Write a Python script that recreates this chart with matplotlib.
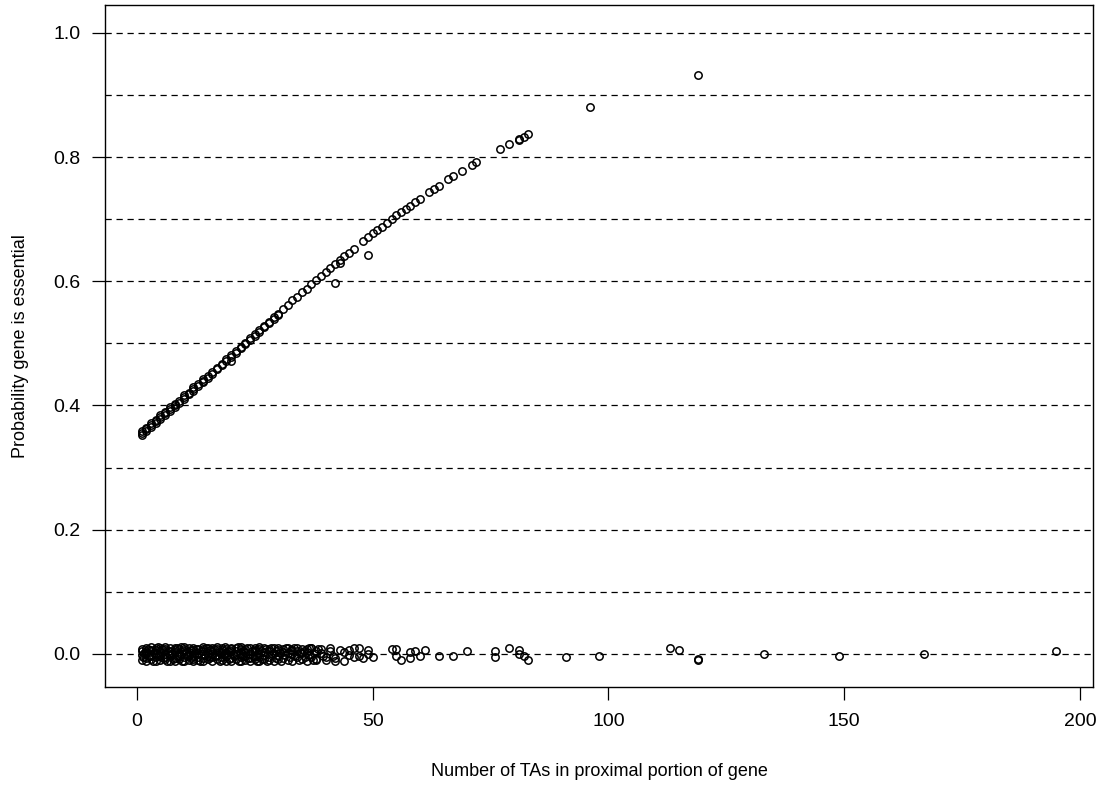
import matplotlib
matplotlib.use("Agg")
import matplotlib.pyplot as plt

plt.rcParams['font.family'] = ['Liberation Sans', 'DejaVu Sans']

# predicted probability for essential genes (upper curve), (x, p) pairs
top_pts = [(1, 0.356), (1, 0.353), (1, 0.358), (2, 0.362), (2, 0.359), (2, 0.364),
           (3, 0.368), (3, 0.366), (3, 0.371), (4, 0.375), (4, 0.372), (4, 0.377),
           (5, 0.381), (5, 0.378), (5, 0.384), (6, 0.388), (6, 0.385), (6, 0.390),
           (7, 0.394), (7, 0.391), (7, 0.397), (8, 0.400), (8, 0.398), (8, 0.403),
           (9, 0.407), (9, 0.404), (10, 0.414), (10, 0.411), (10, 0.416),
           (11, 0.420), (11, 0.418), (12, 0.427), (12, 0.424), (12, 0.429),
           (13, 0.434), (13, 0.431), (14, 0.440), (14, 0.437), (14, 0.443),
           (15, 0.447), (15, 0.444), (16, 0.454), (16, 0.451), (17, 0.460), (17, 0.458),
           (18, 0.467), (18, 0.465), (19, 0.474), (19, 0.471), (20, 0.481), (20, 0.478),
           (20, 0.472), (21, 0.488), (21, 0.485), (22, 0.494), (22, 0.492),
           (23, 0.501), (23, 0.499), (24, 0.508), (24, 0.505), (25, 0.515), (25, 0.512),
           (26, 0.521), (26, 0.519), (27, 0.528), (27, 0.526), (28, 0.535), (28, 0.533),
           (29, 0.542), (29, 0.540), (30, 0.548), (30, 0.546), (31, 0.555), (32, 0.562),
           (33, 0.569), (34, 0.575), (35, 0.582), (36, 0.588), (37, 0.595), (38, 0.602),
           (39, 0.608), (40, 0.615), (41, 0.621), (42, 0.627), (43, 0.634), (43, 0.630),
           (44, 0.640), (45, 0.646), (46, 0.652), (48, 0.665), (49, 0.671), (50, 0.677),
           (51, 0.683), (52, 0.688), (53, 0.694), (54, 0.700), (55, 0.706), (56, 0.711),
           (57, 0.717), (58, 0.722), (59, 0.728), (60, 0.733), (62, 0.744), (63, 0.749),
           (64, 0.754), (66, 0.764), (67, 0.769), (69, 0.778), (71, 0.787), (72, 0.792),
           (77, 0.813), (79, 0.821), (81, 0.829), (81, 0.827), (82, 0.833), (83, 0.837),
           (96, 0.880), (119, 0.932)]
# genes sitting below the curve
off_pts = [(42, 0.597), (49, 0.642)]

# non-essential genes, jittered around zero, (x, y) pairs
zero_pts = [
    (1, 0.008), (1, -0.002), (1, -0.010), (1, 0.004),
    (2, -0.007), (2, 0.010), (2, 0.001), (2, -0.011), (2, 0.005),
    (3, 0.006), (3, -0.004), (3, 0.011), (3, -0.009),
    (4, 0.009), (4, -0.006), (4, 0.002), (4, -0.012), (4, 0.006),
    (5, -0.003), (5, 0.010), (5, -0.010), (5, 0.004),
    (6, 0.007), (6, -0.008), (6, 0.000), (6, 0.011), (6, -0.005),
    (7, -0.011), (7, 0.005), (7, -0.002), (7, 0.009),
    (8, 0.010), (8, -0.007), (8, 0.003), (8, -0.012), (8, 0.006),
    (9, -0.004), (9, 0.008), (9, -0.009), (9, 0.001),
    (10, 0.011), (10, -0.006), (10, 0.004), (10, -0.011), (10, 0.007),
    (11, -0.002), (11, 0.009), (11, -0.010), (11, 0.003),
    (12, 0.006), (12, -0.008), (12, 0.010), (12, -0.003), (12, -0.012),
    (13, 0.008), (13, -0.005), (13, 0.001), (13, -0.010),
    (14, 0.011), (14, -0.007), (14, 0.004), (14, -0.012), (14, 0.007),
    (15, -0.003), (15, 0.009), (15, -0.009), (15, 0.002),
    (16, 0.010), (16, -0.006), (16, 0.005), (16, -0.011), (16, 0.000),
    (17, -0.008), (17, 0.007), (17, -0.002), (17, 0.011),
    (18, 0.009), (18, -0.010), (18, 0.003), (18, -0.005), (18, 0.006),
    (19, -0.012), (19, 0.008), (19, -0.004), (19, 0.002),
    (20, 0.010), (20, -0.007), (20, 0.004), (20, -0.011), (20, 0.007),
    (21, -0.001), (21, 0.009), (21, -0.009), (21, 0.005),
    (22, 0.011), (22, -0.006), (22, 0.002), (22, -0.012), (22, 0.008),
    (23, -0.004), (23, 0.007), (23, -0.010), (23, 0.003),
    (24, 0.010), (24, -0.007), (24, 0.000), (24, -0.011),
    (25, 0.006), (25, -0.003), (25, 0.009), (25, -0.009), (25, 0.004),
    (26, -0.012), (26, 0.008), (26, -0.005), (26, 0.011),
    (27, 0.003), (27, -0.008), (27, 0.010), (27, -0.002),
    (28, 0.007), (28, -0.010), (28, 0.004), (28, -0.006),
    (29, 0.009), (29, -0.011), (29, 0.001),
    (30, 0.006), (30, -0.004), (30, 0.010), (30, -0.009),
    (31, 0.008), (31, -0.007), (31, 0.003),
    (32, -0.010), (32, 0.009), (32, 0.002),
    (33, 0.006), (33, -0.011), (33, 0.000),
    (34, 0.010), (34, -0.006), (34, 0.004),
    (35, -0.009), (35, 0.008), (35, 0.001),
    (36, 0.007), (36, -0.012), (36, 0.003),
    (37, 0.009), (37, -0.005), (37, 0.010),
    (38, -0.008), (38, 0.005), (38, -0.010),
    (39, 0.002), (39, 0.008),
    (40, -0.006), (40, -0.010),
    (41, 0.004), (41, 0.009),
    (42, -0.007), (42, -0.011),
    (43, 0.006),
    (44, -0.012), (44, 0.003),
    (45, 0.006), (45, -0.002),
    (46, 0.009), (46, -0.006),
    (47, 0.009), (47, -0.004),
    (48, -0.007),
    (49, 0.000), (49, 0.006),
    (50, -0.006),
    (54, 0.008), (55, 0.008), (55, -0.003), (56, -0.010), (58, 0.003), (58, -0.007),
    (59, 0.005), (60, -0.004), (61, 0.006), (64, -0.003), (67, -0.004), (70, 0.004),
    (76, 0.005), (76, -0.005), (79, 0.009), (81, 0.006), (81, -0.001), (82, -0.004),
    (83, -0.010), (91, -0.006), (98, -0.004), (113, 0.009), (115, 0.006),
    (119, -0.008), (119, -0.010), (133, 0.000), (149, -0.004), (167, -0.001),
    (195, 0.005),
]
# more non-essential genes in the crowded low-count range
zero_pts_more = [
    (1.4, -0.006), (1.6, 0.001), (2.4, 0.007), (2.6, -0.004), (3.4, -0.012), (3.6, 0.002),
    (4.4, 0.011), (4.6, -0.002), (5.4, 0.007), (5.6, -0.007), (6.4, -0.011), (6.6, 0.004),
    (7.4, 0.001), (7.6, -0.008), (8.4, -0.003), (8.6, 0.009), (9.4, 0.011), (9.6, -0.012),
    (10.4, 0.001), (10.6, -0.003), (11.4, 0.006), (11.6, -0.006), (12.4, 0.002), (12.6, 0.008),
    (13.4, -0.012), (13.6, 0.004), (14.4, -0.002), (14.6, 0.009), (15.4, -0.006), (15.6, 0.006),
    (16.4, 0.008), (16.6, -0.003), (17.4, 0.003), (17.6, -0.011), (18.4, -0.001), (18.6, 0.011),
    (19.4, 0.005), (19.6, -0.008), (20.4, 0.000), (20.6, -0.004), (21.4, 0.011), (21.6, -0.012),
    (22.4, -0.003), (22.6, 0.005), (23.4, 0.010), (23.6, -0.007), (24.4, 0.005), (24.6, -0.004),
    (25.4, -0.012), (25.6, 0.001), (26.4, 0.004), (26.6, -0.009), (27.4, 0.007), (27.6, -0.011),
    (28.4, 0.010), (28.6, 0.000), (29.4, -0.007), (29.6, 0.005), (30.4, 0.001), (30.6, -0.012),
    (31.4, -0.002), (31.6, 0.010), (32.4, -0.006), (32.6, 0.006), (33.4, 0.009), (33.6, -0.004),
    (34.4, -0.010), (34.6, 0.001), (35.4, 0.004), (35.6, -0.005), (36.4, 0.010), (36.6, -0.002),
    (37.4, -0.010), (37.6, 0.002), (38.4, 0.008), (39.5, -0.004), (41.5, -0.003),
]

grid_levels = [0.0, 0.1, 0.2, 0.3, 0.4, 0.5, 0.6, 0.7, 0.8, 0.9, 1.0]
y_ticks = [0.0, 0.2, 0.4, 0.6, 0.8, 1.0]
x_ticks = [0, 50, 100, 150, 200]

fig = plt.figure(figsize=(11.02, 7.89), dpi=100)
ax = fig.add_axes([0.0953, 0.1293, 0.8965, 0.8644])

for g in grid_levels:
    ax.axhline(g, color='black', lw=0.9, linestyle=(0, (5, 3.8)), zorder=1)

mk = dict(marker='o', linestyle='none', markersize=5.3, markerfacecolor='none',
          markeredgecolor='black', markeredgewidth=1.1, zorder=3)
for pts in (top_pts, off_pts, zero_pts, zero_pts_more):
    xs, ys = zip(*pts)
    ax.plot(xs, ys, **mk)

ax.set_xlim(-6.76, 202.76)
ax.set_ylim(-0.0535, 1.045)
ax.set_xticks(x_ticks)
ax.set_yticks(y_ticks)
ax.set_yticklabels([f"{v:.1f}" for v in y_ticks])
ax.tick_params(axis='both', direction='out', length=9.5, width=0.9, labelsize=14)
ax.tick_params(axis='x', pad=9)
ax.tick_params(axis='y', pad=8)
for s in ax.spines.values():
    s.set_linewidth(1.0)

ax.set_xlabel('Number of TAs in proximal portion of gene', fontsize=13)
ax.set_ylabel('Probability gene is essential', fontsize=13)
ax.xaxis.set_label_coords(0.5, -0.1246)
ax.yaxis.set_label_coords(-0.086, 0.5)
ax.xaxis.label.set_va('center')
ax.yaxis.label.set_va('center')

fig.savefig('out.png', dpi=100)
